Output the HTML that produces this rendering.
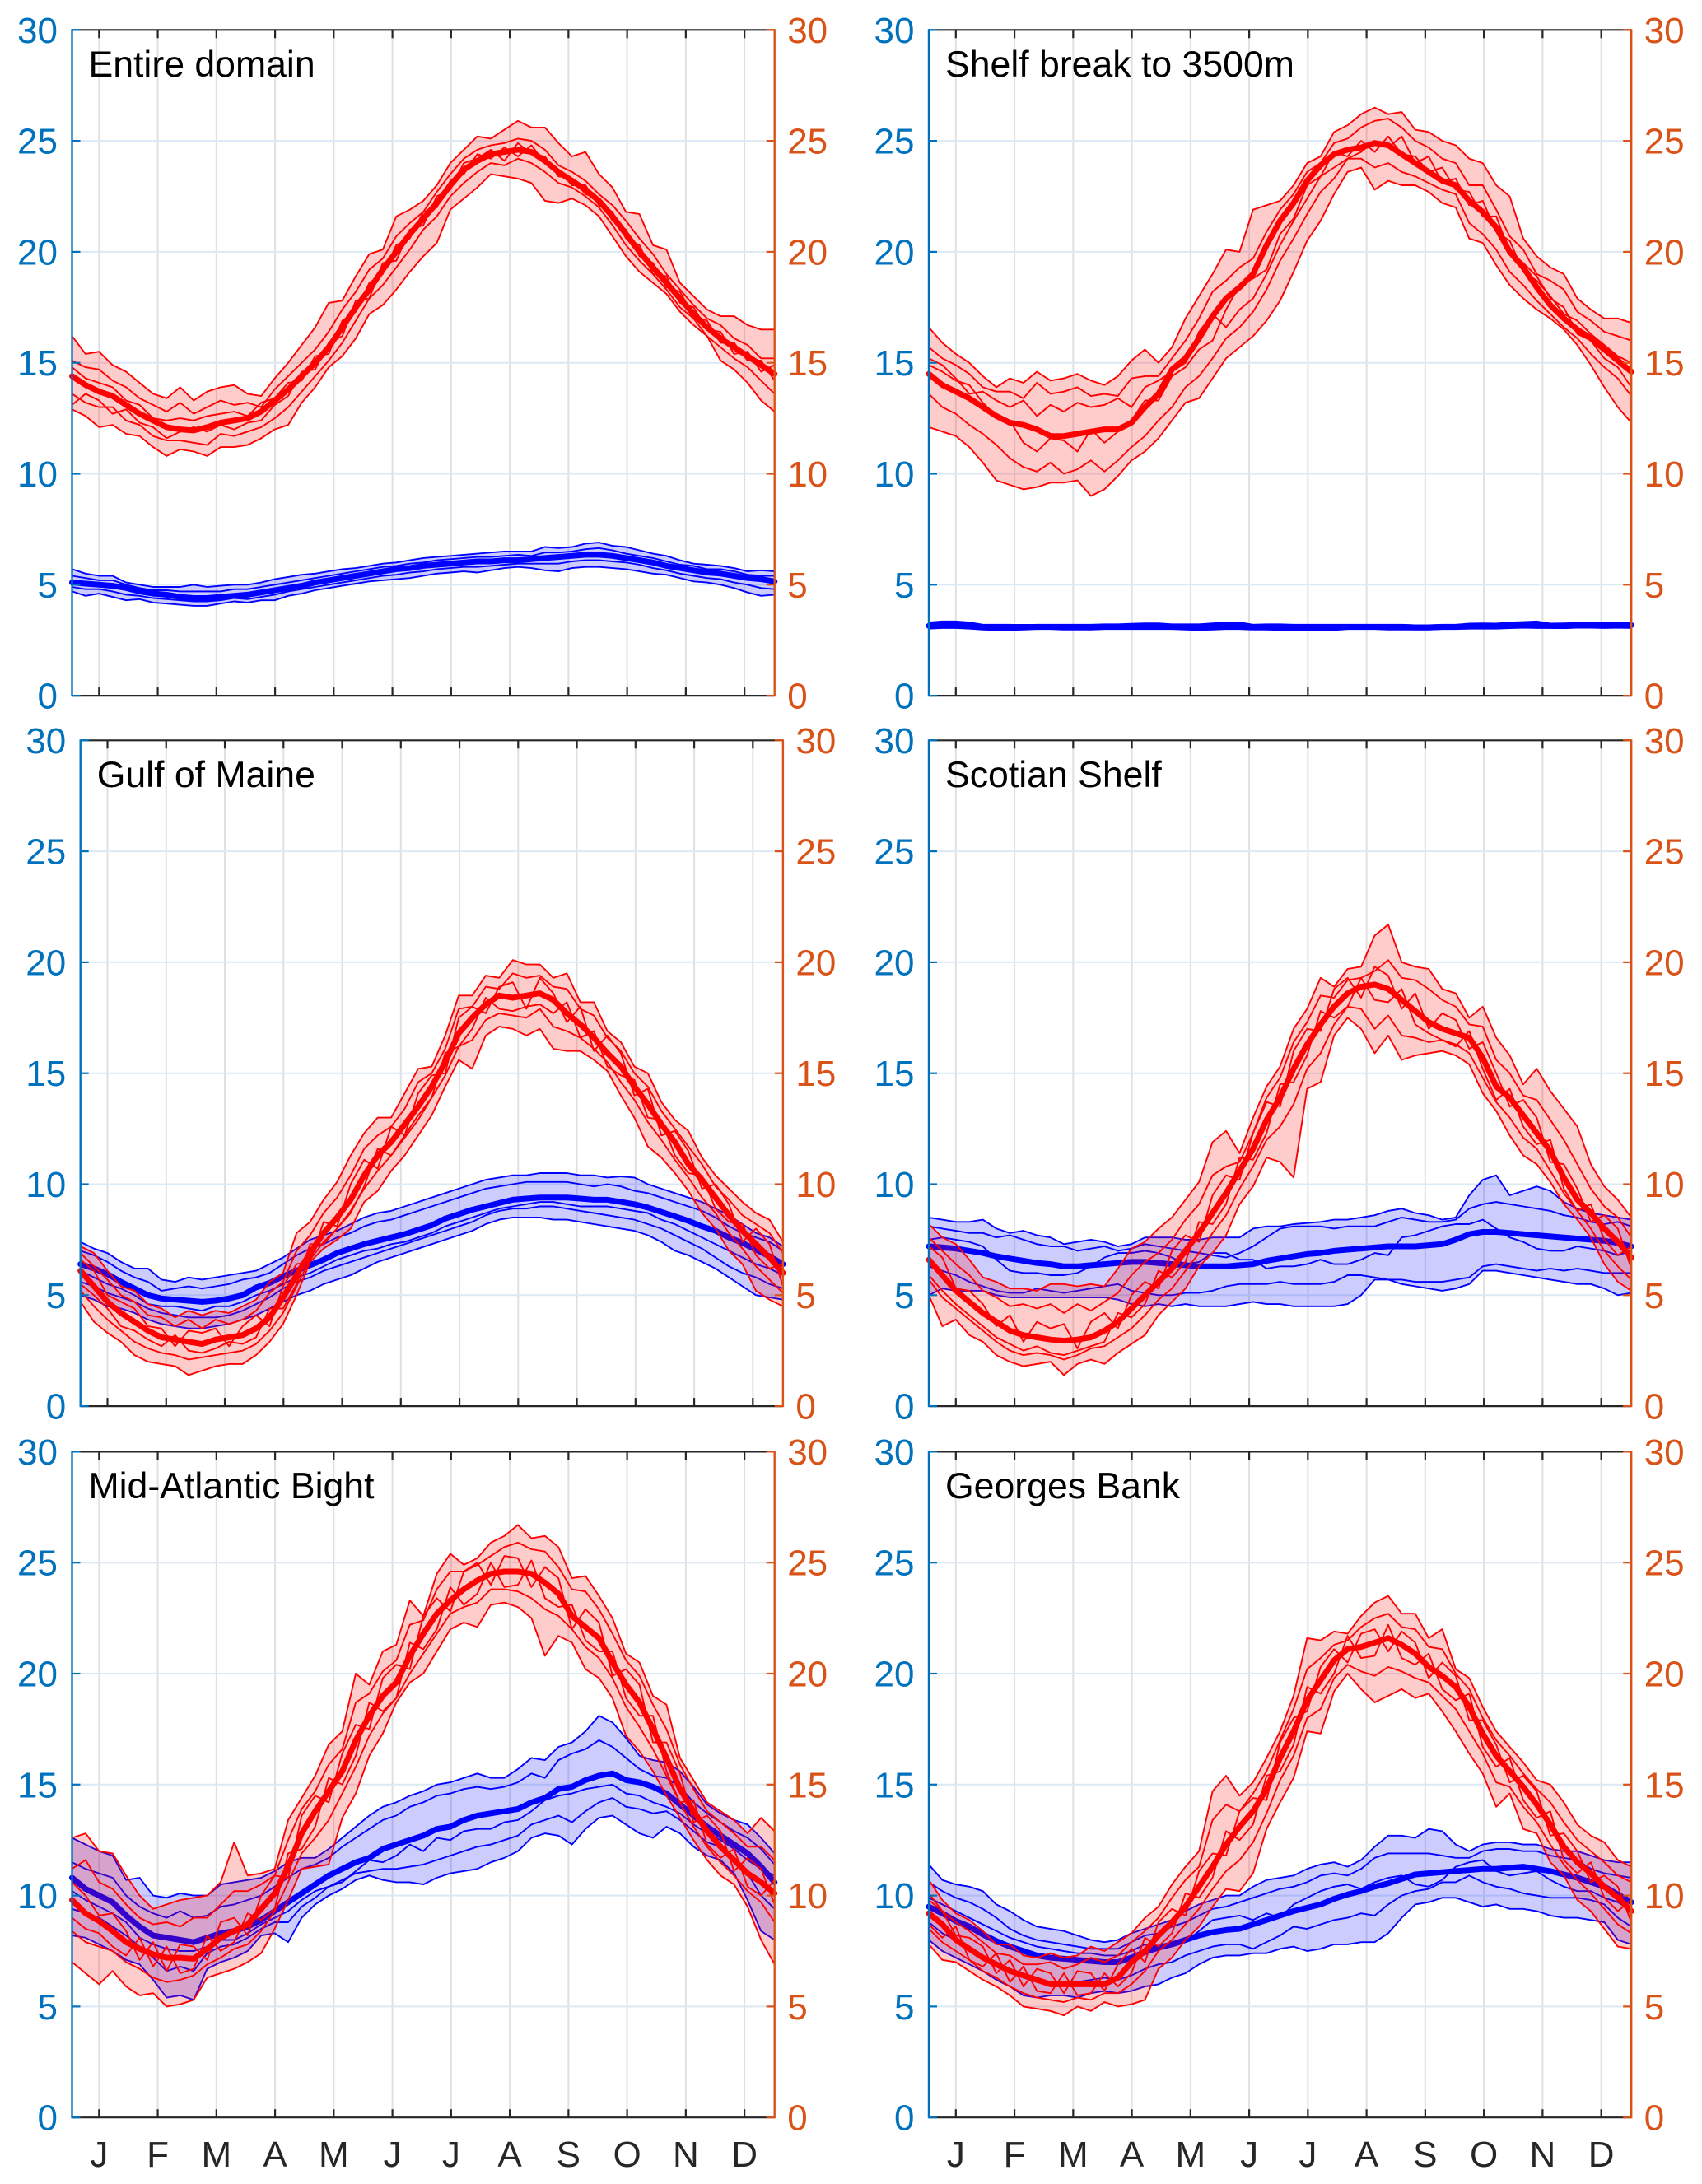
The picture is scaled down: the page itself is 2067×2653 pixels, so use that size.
<!DOCTYPE html>
<html lang="en">
<head>
<meta charset="utf-8">
<title>Seasonal temperature by region</title>
<style>
html,body{margin:0;padding:0;background:#fff;}
body{width:2067px;height:2653px;overflow:hidden;}
svg{display:block;font-family:"Liberation Sans",Arial,sans-serif;}
</style>
</head>
<body>
<svg id="chart" xmlns="http://www.w3.org/2000/svg" width="2067" height="2653" viewBox="0 0 2067 2653"></svg>
<script>
const monthLabels=['J','F','M','A','M','J','J','A','S','O','N','D'];
const monthTickDays=[15,45.4,75.8,106.2,136.6,167,197.4,227.8,258.2,288.6,319,349.4];
const yTickValues=[0,5,10,15,20,25,30];
const yDomain=[0,30];
const dayDomain=[1,365];

/* Entire domain */
const entireRedMean=[14.4,14.0,13.7,13.5,13.1,12.7,12.4,12.1,12.0,11.95,12.1,12.3,12.4,12.5,12.8,13.3,13.8,14.4,15.0,15.7,16.6,17.5,18.3,19.2,20.0,20.8,21.5,22.2,23.0,23.7,24.1,24.4,24.5,24.6,24.5,24.1,23.6,23.2,22.8,22.3,21.6,20.8,20.0,19.3,18.6,17.9,17.2,16.6,16.1,15.7,15.3,14.9,14.5];
const entireRedHi=[16.2,15.4,15.5,14.9,14.6,14.1,13.6,13.4,13.9,13.3,13.7,13.9,14.0,13.6,13.5,14.3,15.0,15.8,16.6,17.7,17.8,18.9,19.9,20.1,21.6,21.9,22.3,23.0,24.0,24.6,25.2,25.1,25.5,25.9,25.6,25.6,24.9,24.3,24.5,23.5,22.9,21.8,21.7,20.3,20.1,18.6,18.0,17.4,17.1,17.1,16.7,16.5,16.5];
const entireRedLo=[12.9,12.6,12.1,12.2,11.8,11.7,11.2,10.8,11.1,11.0,10.8,11.2,11.2,11.3,11.6,12.0,12.2,13.2,13.9,14.8,15.3,16.1,17.2,17.6,18.3,19.1,19.8,20.4,21.9,22.4,22.9,23.5,23.4,23.3,23.1,22.3,22.2,22.4,22.1,21.6,20.7,19.8,19.1,18.6,18.1,17.3,16.7,16.2,15.1,14.7,14.1,13.3,12.8];
const entireRedT1=[15.1,14.8,14.7,14.2,13.9,13.4,13.1,12.8,13.2,12.7,13.0,13.3,13.1,13.2,13.0,13.8,14.4,15.0,15.6,16.4,17.4,18.2,19.2,19.7,20.7,21.3,21.8,22.7,23.5,24.2,24.6,24.8,24.9,25.1,25.0,24.6,23.9,23.6,23.2,22.6,22.1,21.4,20.6,19.9,19.0,18.3,17.6,17.0,16.7,16.1,15.8,15.2,15.2];
const entireRedT2=[13.6,13.2,13.0,13.0,12.4,12.2,11.7,11.5,11.5,11.4,11.3,11.8,11.7,11.9,12.1,12.5,13.0,13.7,14.4,15.1,15.9,16.9,17.9,18.5,19.3,20.1,21.0,21.6,22.5,23.1,23.6,24.0,23.9,24.2,24.0,23.6,23.1,22.9,22.5,22.0,21.2,20.3,19.6,19.0,18.3,17.5,17.0,16.2,15.7,15.2,14.8,14.2,13.6];
const entireRedT3=[14.8,14.3,14.1,13.9,13.3,13.1,12.5,12.4,12.5,12.4,12.6,12.7,12.8,12.6,13.2,13.4,14.1,14.2,15.3,15.4,16.9,17.3,18.6,19.0,20.3,20.6,21.8,22.0,23.2,23.5,24.4,24.2,24.7,24.3,24.8,24.0,23.7,23.0,23.0,22.1,21.8,20.6,20.3,19.0,18.9,17.7,17.5,16.5,16.4,15.4,15.5,14.6,14.9];
const entireRedT4=[13.1,13.6,13.3,12.7,12.9,12.3,12.1,11.6,11.9,12.1,11.9,12.2,12.0,12.3,12.4,13.1,13.5,14.6,14.7,15.9,16.2,17.8,17.9,19.5,19.6,21.0,21.2,22.5,22.8,24.0,24.2,24.6,24.1,24.9,24.4,24.3,23.4,23.3,22.6,22.4,21.4,21.0,19.8,19.5,18.4,18.2,17.1,16.9,15.9,15.9,15.1,15.1,14.2];
const entireBlueMean=[5.1,5.05,5.0,4.95,4.85,4.7,4.6,4.55,4.45,4.4,4.4,4.45,4.5,4.55,4.65,4.75,4.85,4.95,5.1,5.2,5.3,5.4,5.5,5.6,5.7,5.75,5.85,5.9,5.95,6.0,6.05,6.05,6.1,6.1,6.15,6.2,6.25,6.3,6.35,6.35,6.3,6.2,6.1,6.0,5.85,5.75,5.65,5.55,5.5,5.4,5.3,5.25,5.15];
const entireBlueHi=[5.7,5.5,5.4,5.4,5.1,5.0,4.9,4.9,4.9,5.0,4.9,4.95,5.0,5.0,5.1,5.25,5.35,5.45,5.5,5.6,5.7,5.75,5.85,5.95,6.0,6.1,6.2,6.25,6.3,6.35,6.4,6.45,6.5,6.5,6.5,6.7,6.65,6.7,6.85,6.9,6.75,6.7,6.55,6.4,6.3,6.1,5.95,5.9,5.85,5.75,5.6,5.65,5.6];
const entireBlueLo=[4.7,4.5,4.6,4.45,4.3,4.35,4.2,4.15,4.1,4.05,4.05,4.15,4.25,4.2,4.3,4.3,4.5,4.6,4.75,4.85,4.95,5.05,5.15,5.2,5.25,5.3,5.4,5.5,5.55,5.6,5.55,5.65,5.75,5.8,5.75,5.65,5.6,5.75,5.8,5.8,5.75,5.7,5.6,5.5,5.45,5.3,5.15,5.1,5.0,4.85,4.65,4.5,4.55];
const entireBlueT1=[5.4,5.3,5.2,5.2,5.0,4.85,4.75,4.75,4.7,4.7,4.7,4.7,4.8,4.8,4.9,5.0,5.1,5.2,5.3,5.4,5.5,5.6,5.7,5.8,5.85,5.95,6.0,6.1,6.15,6.2,6.25,6.25,6.3,6.35,6.3,6.45,6.45,6.5,6.6,6.65,6.55,6.4,6.3,6.2,6.05,5.9,5.85,5.7,5.7,5.6,5.45,5.4,5.4];
const entireBlueT2=[4.9,4.8,4.8,4.7,4.55,4.5,4.4,4.35,4.3,4.25,4.25,4.3,4.4,4.35,4.45,4.55,4.7,4.8,4.9,5.0,5.1,5.2,5.3,5.4,5.45,5.55,5.6,5.7,5.75,5.8,5.8,5.85,5.9,5.95,5.95,5.95,5.95,6.05,6.1,6.1,6.05,6.0,5.9,5.75,5.65,5.5,5.4,5.3,5.25,5.1,5.0,4.85,4.8];

/* Shelf break to 3500m */
const shelfRedMean=[14.5,14.0,13.7,13.4,13.0,12.6,12.3,12.2,12.0,11.7,11.7,11.8,11.9,12.0,12.0,12.3,13.0,13.6,14.7,15.2,16.1,17.1,17.9,18.4,19.0,20.3,21.4,22.2,23.2,23.9,24.4,24.6,24.7,24.9,24.8,24.4,24.0,23.6,23.2,23.0,22.3,21.8,21.1,20.0,19.3,18.4,17.6,17.0,16.5,16.1,15.6,15.1,14.6];
const shelfRedHi=[16.6,15.9,15.4,15.0,14.4,13.9,14.3,14.1,14.6,14.2,14.3,14.5,14.2,14.0,14.4,15.1,15.6,15.0,15.7,17.0,18.0,19.0,20.1,20.0,21.9,22.1,22.3,23.0,24.0,24.3,25.4,25.7,26.2,26.5,26.2,26.3,25.5,25.4,25.0,24.8,24.2,24.0,23.0,22.5,20.6,19.8,19.3,19.0,17.9,17.4,17.0,17.0,16.8];
const shelfRedLo=[12.1,11.9,11.7,11.2,10.5,9.7,9.5,9.3,9.4,9.6,9.6,9.7,9.0,9.3,9.9,10.6,11.0,11.6,12.4,13.2,13.4,14.3,15.2,15.7,16.2,16.9,17.8,19.1,20.5,21.4,22.6,23.6,23.8,22.8,23.2,23.0,23.0,22.7,22.2,22.0,20.6,20.4,19.4,18.5,17.9,17.4,17.0,16.5,15.8,14.9,13.9,13.0,12.3];
const shelfRedT1=[15.7,15.2,14.9,14.5,13.9,13.7,13.7,13.4,14.1,13.6,13.7,13.9,13.5,13.6,13.5,14.3,14.4,14.4,15.2,16.0,17.0,18.2,18.7,19.3,19.7,20.9,21.9,22.6,23.6,24.0,24.9,25.1,25.6,25.9,26.0,25.6,25.0,24.7,24.2,24.0,23.0,23.0,21.9,20.7,20.1,19.0,18.7,18.3,17.3,16.9,16.4,16.2,16.0];
const shelfRedT2=[13.6,13.0,12.7,12.2,11.8,11.3,10.7,10.3,10.1,10.5,10.0,10.2,10.6,10.1,10.6,11.2,11.7,12.4,13.0,13.9,14.4,15.2,16.1,16.6,17.3,18.3,19.6,20.6,21.7,22.7,23.3,24.2,24.2,23.8,24.0,23.6,23.4,23.1,22.8,22.6,21.3,20.8,20.1,19.1,18.5,17.8,17.2,16.6,16.1,15.4,14.8,14.3,13.5];
const shelfRedT3=[14.9,14.6,14.2,14.0,13.2,12.6,12.4,11.4,11.0,11.6,11.5,11.0,12.0,11.4,11.9,12.4,13.3,13.3,14.4,14.8,15.6,16.0,17.4,18.5,18.8,19.2,20.8,21.5,23.0,23.4,24.5,24.3,25.0,24.5,25.2,24.4,24.3,23.6,23.8,22.8,22.7,21.6,21.6,20.0,19.5,18.9,17.9,17.5,16.3,16.0,15.2,14.8,13.9];
const shelfRedT4=[15.2,14.9,14.3,13.6,13.7,13.3,13.0,13.3,12.6,13.1,12.8,13.2,13.0,13.1,13.4,13.0,13.9,14.2,14.6,15.0,16.4,17.2,16.6,17.4,17.9,19.0,20.3,21.4,22.4,23.4,23.8,24.2,24.5,25.0,24.7,25.2,24.0,24.3,23.1,23.3,22.1,22.3,20.9,20.5,19.1,18.7,18.0,17.2,16.9,16.3,15.8,15.3,15.0];
const shelfBlueMean=[3.15,3.2,3.2,3.15,3.1,3.1,3.1,3.1,3.1,3.1,3.1,3.1,3.1,3.1,3.12,3.12,3.13,3.13,3.12,3.1,3.1,3.13,3.15,3.15,3.1,3.1,3.1,3.1,3.1,3.1,3.1,3.1,3.1,3.1,3.1,3.1,3.08,3.08,3.1,3.1,3.13,3.13,3.13,3.15,3.18,3.2,3.15,3.15,3.16,3.16,3.18,3.18,3.18];
const shelfBlueHi=[3.3,3.35,3.35,3.3,3.2,3.2,3.2,3.18,3.2,3.2,3.2,3.2,3.2,3.22,3.22,3.24,3.26,3.26,3.22,3.22,3.22,3.26,3.3,3.3,3.2,3.22,3.22,3.2,3.2,3.2,3.2,3.2,3.2,3.2,3.2,3.2,3.18,3.18,3.2,3.2,3.25,3.26,3.25,3.3,3.32,3.35,3.25,3.26,3.28,3.28,3.3,3.3,3.28];
const shelfBlueLo=[3.02,3.05,3.05,3.02,2.98,2.96,2.96,2.98,3.0,3.0,2.98,2.98,2.98,3.0,3.0,3.0,3.0,3.0,3.0,2.98,2.96,2.98,3.0,3.0,2.98,2.98,2.96,2.96,2.96,2.94,2.96,3.0,3.0,3.0,2.98,2.98,2.98,2.98,3.0,3.0,3.02,3.02,3.02,3.04,3.06,3.05,3.05,3.04,3.06,3.06,3.05,3.06,3.05];
const shelfBlueT1=[3.2,3.25,3.25,3.2,3.12,3.1,3.12,3.1,3.14,3.12,3.12,3.1,3.14,3.14,3.16,3.16,3.18,3.2,3.14,3.12,3.14,3.2,3.22,3.18,3.12,3.14,3.14,3.1,3.12,3.12,3.12,3.14,3.14,3.12,3.12,3.12,3.12,3.1,3.14,3.14,3.18,3.2,3.16,3.2,3.24,3.26,3.18,3.2,3.2,3.2,3.24,3.22,3.2];
const shelfBlueT2=[3.1,3.14,3.12,3.1,3.04,3.04,3.02,3.04,3.06,3.04,3.04,3.04,3.04,3.06,3.08,3.06,3.08,3.08,3.06,3.04,3.04,3.06,3.1,3.1,3.04,3.04,3.02,3.04,3.02,3.02,3.04,3.06,3.06,3.06,3.04,3.04,3.04,3.04,3.06,3.06,3.08,3.08,3.08,3.1,3.12,3.12,3.1,3.1,3.12,3.12,3.12,3.12,3.12];

/* Gulf of Maine */
const maineRedMean=[6.1,5.4,4.7,4.2,3.8,3.4,3.1,3.0,2.9,2.8,3.0,3.1,3.2,3.5,4.0,4.9,5.9,6.9,7.8,8.5,9.3,10.4,11.3,11.9,12.7,13.5,14.4,15.5,16.8,17.5,18.1,18.5,18.4,18.5,18.6,18.3,17.7,17.2,16.6,15.9,15.3,14.4,13.6,12.7,11.9,10.9,10.2,9.4,8.6,7.9,7.3,6.7,6.0];
const maineRedHi=[7.2,6.9,6.1,5.4,5.2,4.6,4.4,4.0,4.3,4.1,4.3,4.2,4.5,4.8,5.6,6.0,7.8,8.3,9.3,10.1,11.3,12.3,13.0,13.0,14.1,15.2,15.3,16.7,18.5,18.5,19.4,19.3,20.1,19.9,19.9,19.3,19.5,18.2,18.2,16.9,16.4,15.3,15.0,13.7,12.9,12.4,11.2,10.4,9.8,9.2,8.7,8.4,7.4];
const maineRedLo=[4.7,3.8,3.3,2.9,2.3,2.0,1.9,1.8,1.4,1.6,1.8,1.9,1.9,2.3,2.9,3.7,5.0,6.5,7.1,7.5,8.0,9.2,9.7,10.6,11.3,12.2,13.1,14.4,15.6,15.2,16.7,17.1,17.0,16.7,17.0,16.1,16.0,16.0,15.6,15.1,14.0,13.0,11.7,11.2,10.5,9.7,8.7,8.0,7.0,6.4,5.2,4.8,4.5];
const maineRedT1=[6.9,6.3,5.7,5.0,4.7,4.1,4.0,3.6,3.9,3.5,3.9,3.7,3.9,4.3,5.1,5.6,7.0,7.7,8.7,9.4,10.4,11.6,12.2,12.6,13.4,14.6,15.0,16.1,17.9,18.0,18.9,18.8,19.5,19.3,19.4,18.9,18.8,17.9,17.6,16.6,16.0,15.0,14.4,13.3,12.5,11.7,10.9,9.9,9.3,8.6,8.2,7.8,6.9];
const maineRedT2=[5.2,4.5,3.9,3.4,2.9,2.6,2.4,2.3,2.1,2.2,2.3,2.4,2.5,2.8,3.4,4.2,5.4,6.6,7.4,8.0,8.8,9.8,10.6,11.3,12.1,12.9,13.9,14.9,16.2,16.5,17.4,17.7,17.6,17.5,17.9,17.1,16.9,16.6,16.1,15.5,14.6,13.8,12.8,12.0,11.1,10.3,9.4,8.7,7.8,7.1,6.3,5.7,5.1];
const maineRedT3=[6.6,6.1,5.0,4.7,4.4,3.6,3.5,2.7,3.4,3.3,3.5,2.7,3.6,4.1,3.6,5.4,6.4,6.5,8.3,8.1,10.0,11.1,10.7,12.6,12.2,14.1,14.9,15.0,17.5,18.0,17.7,18.9,19.1,17.9,19.3,18.6,17.3,18.0,16.0,16.7,15.9,14.0,14.3,12.2,12.4,11.5,9.8,10.0,9.1,7.4,8.0,7.3,5.4];
const maineRedT4=[5.5,5.0,4.4,3.6,3.4,3.0,2.7,3.2,2.5,2.4,2.6,2.9,2.8,3.1,4.4,4.4,5.5,7.3,7.3,8.0,8.7,9.9,11.6,11.3,12.2,13.1,13.9,15.9,16.2,17.0,18.4,17.9,17.8,18.0,18.1,17.7,18.2,16.6,16.9,15.3,14.9,14.7,13.0,12.9,11.3,10.5,10.4,8.9,8.3,8.2,6.8,6.2,6.4];
const maineBlueMean=[6.4,6.2,5.95,5.6,5.3,5.0,4.85,4.8,4.75,4.7,4.75,4.85,5.0,5.35,5.55,5.85,6.1,6.35,6.6,6.9,7.1,7.3,7.45,7.6,7.75,7.95,8.15,8.45,8.65,8.85,9.0,9.15,9.3,9.35,9.4,9.4,9.4,9.35,9.3,9.3,9.2,9.1,8.95,8.75,8.55,8.35,8.1,7.9,7.6,7.35,7.05,6.75,6.4];
const maineBlueHi=[7.4,7.1,6.9,6.5,6.2,6.2,5.7,5.6,5.8,5.7,5.8,5.9,6.0,6.1,6.4,6.7,7.1,7.5,7.7,7.9,8.2,8.5,8.7,8.8,9.0,9.2,9.4,9.6,9.8,10.0,10.2,10.3,10.4,10.4,10.5,10.5,10.5,10.4,10.4,10.3,10.35,10.3,10.0,9.8,9.6,9.4,9.2,8.9,8.6,8.2,7.8,7.6,7.2];
const maineBlueLo=[5.0,4.8,4.5,4.4,4.2,3.9,3.7,3.6,3.5,3.5,3.6,3.7,3.9,4.1,4.4,4.7,5.0,5.2,5.5,5.7,5.9,6.2,6.5,6.7,6.9,7.1,7.3,7.5,7.7,7.9,8.2,8.4,8.5,8.5,8.5,8.4,8.4,8.3,8.2,8.1,8.0,7.9,7.7,7.4,7.0,6.8,6.5,6.2,5.8,5.4,5.0,4.9,4.8];
const maineBlueT1=[7.0,6.8,6.5,6.1,5.8,5.6,5.2,5.3,5.4,5.3,5.4,5.5,5.7,5.8,6.0,6.4,6.8,7.1,7.3,7.6,7.8,8.1,8.3,8.4,8.6,8.8,9.0,9.2,9.4,9.6,9.8,9.9,10.0,10.1,10.1,10.1,10.1,10.0,9.9,10.0,9.9,9.7,9.6,9.4,9.2,9.0,8.8,8.5,8.1,7.8,7.6,7.4,7.0];
const maineBlueT2=[5.6,5.4,5.1,4.9,4.7,4.4,4.2,4.1,4.0,4.0,4.0,4.1,4.3,4.6,4.9,5.3,5.6,5.8,6.1,6.3,6.5,6.7,6.9,7.1,7.3,7.5,7.7,7.9,8.1,8.3,8.6,8.8,8.9,8.9,9.0,9.0,8.9,8.8,8.7,8.6,8.5,8.4,8.2,8.0,7.7,7.4,7.1,6.7,6.3,6.0,5.8,5.5,5.3];
const maineBlueT3=[6.1,5.8,5.5,5.3,5.0,4.6,4.5,4.5,4.4,4.3,4.5,4.5,4.7,5.0,5.2,5.5,5.8,6.0,6.3,6.6,6.8,7.0,7.1,7.3,7.4,7.6,7.8,8.1,8.3,8.5,8.7,8.9,9.0,9.1,9.2,9.2,9.1,9.0,9.0,9.0,8.9,8.8,8.7,8.4,8.2,7.9,7.6,7.3,7.0,6.7,6.4,6.2,5.9];

/* Scotian Shelf */
const scotianRedMean=[6.6,5.9,5.2,4.7,4.2,3.8,3.4,3.2,3.1,3.0,2.95,3.0,3.1,3.4,3.8,4.4,5.0,5.6,6.2,7.0,7.8,8.7,9.6,10.6,11.6,12.9,13.9,15.2,16.3,17.2,18.0,18.6,18.9,19.0,18.8,18.3,17.8,17.3,17.0,16.8,16.6,15.7,14.4,13.9,13.1,12.3,11.5,10.3,9.3,8.7,8.0,7.4,6.7];
const scotianRedHi=[8.2,7.6,7.3,6.6,5.8,5.6,5.3,5.3,5.2,5.5,5.5,5.4,5.5,5.4,6.2,7.1,7.4,8.0,8.5,9.3,10.1,11.9,12.4,11.4,13.0,14.4,15.3,17.0,17.9,19.3,18.9,19.7,19.8,21.2,21.7,20.0,19.8,19.7,18.8,18.6,17.5,18.0,16.6,15.8,14.5,15.2,14.2,13.4,12.6,10.9,9.9,9.3,8.5];
const scotianRedLo=[5.0,3.6,3.9,3.2,2.9,2.3,2.0,1.8,1.9,2.0,1.4,1.9,2.1,1.9,2.4,2.8,3.2,4.1,4.7,5.3,6.3,6.9,7.7,9.1,9.9,11.2,11.0,10.3,14.3,14.6,16.7,17.5,17.0,15.9,16.7,15.6,15.8,15.9,16.0,15.8,15.4,14.1,13.3,12.2,11.3,10.9,10.1,9.1,8.4,7.6,6.4,5.6,5.2];
const scotianRedT1=[7.6,7.0,6.4,5.9,5.2,4.9,4.5,4.6,4.4,4.6,4.2,4.6,4.3,4.7,5.1,5.9,6.5,6.9,7.5,8.4,9.1,10.4,10.8,11.0,12.3,13.9,14.8,16.4,17.3,18.5,18.4,19.2,19.3,19.6,20.1,19.3,19.2,18.8,18.3,18.0,17.2,17.1,15.6,15.0,14.0,13.8,12.9,12.0,10.9,9.8,9.0,8.5,7.6];
const scotianRedT2=[5.7,4.9,4.4,3.9,3.4,2.9,2.5,2.3,2.4,2.3,2.1,2.3,2.6,2.7,3.1,3.5,4.1,4.8,5.3,6.1,6.9,7.8,8.6,9.8,10.8,12.0,12.6,13.6,15.2,15.9,17.2,18.0,17.9,17.0,17.6,16.7,16.6,16.4,16.5,16.3,15.9,14.8,13.7,13.0,12.1,11.6,10.6,9.6,8.8,8.0,7.0,6.3,5.7];
const scotianRedT3=[7.2,6.7,5.3,5.2,4.6,3.6,4.1,2.9,3.8,3.5,3.7,2.6,3.8,4.2,3.5,5.0,5.6,5.3,7.0,7.7,7.4,9.5,10.4,10.2,12.3,13.7,13.5,16.0,17.0,16.9,18.8,19.3,18.4,19.8,19.4,17.9,18.6,17.0,17.7,17.4,16.1,16.4,15.0,13.5,13.8,13.0,11.0,10.9,9.8,8.3,8.6,8.0,6.2];
const scotianRedT4=[5.9,5.2,4.6,4.1,3.6,3.1,2.8,2.5,2.7,2.4,2.3,2.5,2.7,2.9,4.2,4.0,4.6,6.1,5.8,6.5,8.3,8.2,9.1,11.2,11.1,12.3,14.5,14.6,15.8,17.8,17.5,18.0,19.3,18.3,18.2,18.8,17.2,16.8,16.5,16.2,16.9,15.2,13.8,14.3,12.6,11.8,12.0,9.8,8.8,9.1,7.5,6.8,7.2];
const scotianBlueMean=[7.2,7.15,7.1,7.0,6.9,6.75,6.65,6.55,6.45,6.4,6.3,6.3,6.35,6.4,6.45,6.5,6.5,6.45,6.4,6.35,6.3,6.3,6.3,6.35,6.4,6.55,6.65,6.75,6.85,6.9,7.0,7.05,7.1,7.15,7.2,7.2,7.2,7.25,7.3,7.5,7.75,7.85,7.85,7.8,7.75,7.7,7.65,7.6,7.55,7.5,7.45,7.35,7.2];
const scotianBlueHi=[8.5,8.4,8.3,8.3,8.4,8.0,7.8,7.9,7.7,7.6,7.3,7.4,7.5,7.4,7.2,7.3,7.6,7.6,7.6,7.5,7.5,7.6,7.6,7.6,8.0,8.1,8.1,8.2,8.25,8.3,8.4,8.4,8.5,8.6,8.8,8.9,8.7,8.6,8.4,8.5,9.5,10.2,10.4,9.5,9.7,9.9,9.7,9.2,8.9,8.7,8.6,8.5,8.4];
const scotianBlueLo=[5.0,5.3,5.2,5.2,5.2,5.0,4.9,4.9,4.9,4.9,4.9,4.9,4.9,4.9,4.8,4.6,4.5,4.6,4.5,4.6,4.5,4.5,4.5,4.6,4.7,4.6,4.6,4.5,4.5,4.5,4.5,4.6,5.0,5.7,5.7,5.5,5.4,5.3,5.2,5.3,5.5,6.1,6.1,6.0,5.9,5.8,5.7,5.6,5.5,5.5,5.3,5.0,5.1];
const scotianBlueT1=[8.1,8.0,7.9,7.8,7.8,7.6,7.7,7.5,7.3,7.2,7.2,7.0,7.1,7.2,7.0,7.1,7.3,7.2,7.1,7.0,6.9,6.8,6.7,6.9,7.2,7.6,8.0,8.1,8.1,8.1,8.0,8.1,8.1,8.1,8.3,8.5,8.4,8.3,8.3,8.4,8.9,9.1,9.2,9.1,9.0,8.9,8.8,8.6,8.5,8.3,8.2,8.3,8.1];
const scotianBlueT2=[6.3,6.1,5.9,5.6,5.4,5.2,5.1,5.1,5.3,5.2,5.1,5.2,5.3,5.4,5.5,5.2,5.1,5.0,5.0,5.1,5.1,5.2,5.4,5.5,5.5,5.5,5.6,5.5,5.5,5.5,5.6,5.9,5.9,5.8,5.7,5.7,5.6,5.6,5.6,5.7,5.8,6.3,6.4,6.3,6.2,6.1,6.2,6.1,6.2,6.1,6.0,6.0,6.0];
const scotianBlueT3=[7.5,7.6,7.5,7.4,7.2,6.6,6.1,6.0,6.0,5.9,5.9,6.0,6.3,6.7,6.9,6.9,7.0,6.9,6.7,6.4,6.5,6.9,6.9,6.6,6.6,6.2,6.3,6.3,6.4,6.6,6.4,6.4,6.6,6.9,6.8,7.6,7.7,7.9,8.1,8.2,8.2,8.4,8.0,7.6,7.4,7.1,7.0,7.0,7.2,7.1,7.0,6.8,7.0];

/* Mid-Atlantic Bight */
const midRedMean=[9.8,9.2,8.85,8.4,7.9,7.6,7.35,7.2,7.2,7.15,7.6,8.1,8.4,8.7,9.4,10.1,11.3,12.8,13.8,14.7,15.6,17.0,18.1,19.0,19.6,20.8,21.8,22.7,23.3,23.8,24.2,24.5,24.6,24.6,24.5,24.1,23.6,22.6,22.1,21.6,20.5,19.5,18.7,17.5,16.2,14.8,13.8,12.9,12.2,11.6,11.0,10.6,10.1];
const midRedHi=[12.6,12.8,12.0,11.9,10.9,10.0,9.4,9.6,9.8,9.9,10.0,10.6,12.4,10.9,11.0,11.2,13.4,14.4,15.4,16.8,17.4,20.0,19.5,21.0,21.3,23.3,22.6,24.5,25.4,24.9,25.2,25.9,26.2,26.7,26.1,26.2,25.7,24.3,24.4,23.5,22.5,20.9,20.5,19.0,18.6,16.2,15.2,14.2,13.8,13.4,12.8,13.5,12.9];
const midRedLo=[7.0,6.5,6.0,6.6,5.9,5.5,5.6,5.0,5.1,5.3,6.3,6.5,6.7,7.0,7.4,8.5,9.8,11.2,11.3,11.4,13.5,14.6,16.3,17.3,18.7,19.6,20.0,21.0,22.0,22.3,22.1,23.1,23.2,23.0,22.5,20.8,21.7,21.4,20.2,19.8,18.9,17.2,16.5,15.6,14.5,13.5,12.5,11.6,10.9,10.5,9.5,8.0,6.9];
const midRedT1=[11.2,11.6,10.6,10.3,9.6,9.0,8.7,8.8,8.6,9.0,9.0,9.6,10.2,10.2,10.5,10.9,12.5,13.9,14.7,15.9,16.6,18.7,19.1,20.1,20.6,22.2,22.4,23.8,24.6,24.6,24.9,25.3,25.7,25.9,25.6,25.5,24.8,23.8,23.7,22.9,21.8,20.6,19.9,18.6,17.5,15.9,14.8,13.8,13.3,12.8,12.2,12.2,11.6];
const midRedT2=[8.4,7.9,7.7,7.5,7.0,6.7,6.3,6.1,6.2,6.4,6.9,7.2,7.6,7.8,8.4,9.3,10.6,11.9,12.6,13.4,14.6,15.8,17.2,18.2,18.9,20.0,20.9,21.8,22.7,23.0,23.2,23.8,23.8,23.7,23.4,22.9,22.6,22.0,21.2,20.7,19.8,18.5,17.6,16.6,15.4,14.2,13.1,12.2,11.5,10.9,10.2,9.7,8.8];
const midRedT3=[10.6,10.0,9.1,9.2,8.4,7.1,7.9,6.6,7.8,7.7,7.1,8.8,9.0,8.2,10.0,10.9,10.8,13.6,14.5,14.2,16.4,17.7,17.5,19.8,20.4,20.2,22.6,23.4,22.8,24.6,25.0,24.0,25.3,25.2,23.9,24.8,24.3,22.0,22.9,22.3,19.9,20.2,19.5,16.9,16.9,15.5,13.3,13.6,12.9,11.1,11.7,11.2,9.6];
const midRedT4=[9.0,8.5,8.3,7.7,7.3,8.1,6.8,7.7,6.5,6.7,8.2,7.5,7.9,9.2,8.9,9.4,11.9,12.1,13.1,15.3,15.0,16.3,18.7,18.3,18.9,21.4,21.1,22.0,23.9,23.1,23.6,25.0,23.9,24.0,25.1,23.4,23.0,23.1,21.5,21.0,21.0,18.9,18.1,18.1,15.6,14.2,14.3,12.3,11.7,12.1,10.4,10.0,10.7];
const midBlueMean=[10.8,10.3,10.0,9.7,9.1,8.6,8.2,8.1,8.0,7.9,8.1,8.3,8.4,8.6,8.9,9.3,9.7,10.1,10.5,10.9,11.2,11.5,11.7,12.1,12.3,12.5,12.7,13.0,13.1,13.4,13.6,13.7,13.8,13.9,14.2,14.4,14.8,14.9,15.2,15.4,15.5,15.2,15.1,14.9,14.6,14.1,13.6,13.1,12.7,12.3,11.9,11.3,10.6];
const midBlueHi=[12.6,12.3,12.0,11.8,10.7,10.8,10.0,9.9,10.1,10.0,10.0,10.5,10.6,10.7,10.8,11.1,11.5,11.7,11.7,12.1,12.6,13.1,13.6,14.0,14.2,14.5,14.7,15.0,15.1,15.3,15.5,15.3,15.3,15.7,16.2,16.1,16.7,16.9,17.4,18.1,17.8,17.1,16.3,16.1,16.0,15.6,14.9,14.1,13.7,13.4,13.2,12.6,11.9];
const midBlueLo=[8.2,8.1,7.8,7.5,7.1,6.9,6.2,5.4,5.5,5.3,6.7,7.0,7.2,7.5,8.2,8.3,7.9,9.0,9.6,10.0,10.3,10.7,10.9,10.7,10.6,10.6,10.5,10.8,11.0,11.1,11.2,11.5,11.7,12.0,12.6,12.8,12.7,12.3,13.0,13.5,13.6,13.2,12.8,12.6,13.1,12.8,12.2,11.8,11.6,11.0,9.8,8.4,8.0];
const midBlueT1=[11.5,11.2,11.0,10.8,10.0,9.5,9.2,9.0,9.3,9.0,9.1,9.5,9.6,9.8,10.0,10.4,10.8,11.2,11.4,11.7,12.2,12.6,13.0,13.4,13.6,14.0,14.2,14.5,14.6,14.8,14.9,14.8,14.9,15.1,15.5,15.3,16.1,16.4,16.6,17.0,16.7,16.2,15.7,15.4,15.3,14.9,14.2,13.7,13.3,12.9,12.6,12.1,11.4];
const midBlueT2=[9.4,9.2,9.0,8.6,8.2,7.7,7.2,6.6,6.8,6.6,7.4,7.7,7.8,8.1,8.5,8.8,8.8,9.5,9.9,10.4,10.7,11.0,11.1,11.2,11.2,11.3,11.4,11.6,11.8,12.0,12.2,12.3,12.5,12.7,13.2,13.4,13.6,13.3,13.8,14.2,14.4,14.0,13.9,13.7,13.8,13.4,12.9,12.4,12.2,11.7,11.0,10.0,9.4];
const midBlueT3=[10.2,9.8,9.5,9.2,8.8,8.1,7.8,7.6,7.5,7.5,7.7,8.0,8.0,8.3,8.7,9.0,9.3,9.8,10.2,10.4,10.6,11.1,11.6,11.5,11.8,12.3,12.0,12.6,12.5,12.9,13.0,13.0,13.3,13.4,13.8,14.3,14.5,14.6,14.8,14.9,15.0,14.6,14.5,14.2,14.0,13.7,13.2,12.8,12.5,12.1,11.6,11.2,10.9];

/* Georges Bank */
const georgesRedMean=[9.2,8.7,8.0,7.6,7.2,6.9,6.6,6.4,6.2,6.0,6.0,6.0,6.0,6.0,6.3,7.0,7.5,8.2,8.8,9.5,10.4,11.3,12.3,13.1,13.8,14.8,16.2,17.4,18.8,19.7,20.6,21.1,21.2,21.4,21.6,21.3,20.9,20.3,19.9,19.4,18.5,17.3,16.3,15.6,14.9,14.1,13.2,12.2,11.5,11.0,10.4,9.9,9.3];
const georgesRedHi=[10.7,9.8,9.2,8.9,8.4,7.8,7.8,7.3,7.2,7.4,7.2,7.3,7.7,7.5,7.9,8.3,9.0,9.5,10.5,11.3,12.0,14.7,15.4,14.5,15.1,16.2,17.4,19.0,21.6,21.5,21.9,21.8,22.6,23.2,23.5,22.7,22.7,21.6,22.0,20.2,19.8,18.5,17.4,16.7,16.0,15.2,15.0,14.2,13.2,12.7,12.4,11.6,11.3];
const georgesRedLo=[7.8,7.1,7.0,6.6,6.2,5.9,5.5,5.0,4.9,4.8,4.6,5.0,4.8,5.2,5.0,5.1,5.3,6.7,7.2,8.0,8.6,9.5,10.3,10.2,11.0,13.0,14.2,15.3,17.4,17.3,19.2,20.0,19.3,18.7,19.0,19.3,18.9,19.1,18.3,17.4,16.4,15.5,14.0,14.6,13.0,12.8,11.5,10.9,9.8,9.3,8.5,7.7,7.6];
const georgesRedT1=[10.1,9.3,8.8,8.4,7.9,7.4,7.3,6.9,6.9,7.0,6.7,6.9,7.2,7.0,7.3,7.9,8.4,9.0,9.9,10.7,11.3,13.4,14.1,13.8,14.6,15.6,17.0,18.4,20.2,20.7,21.3,21.5,22.1,22.5,22.7,22.1,22.0,21.2,21.1,20.0,19.3,18.0,17.0,16.3,15.5,14.8,14.2,13.3,12.5,12.0,11.5,10.9,10.6];
const georgesRedT2=[8.5,7.9,7.5,7.1,6.6,6.3,5.9,5.6,5.4,5.3,5.2,5.4,5.3,5.6,5.6,6.0,6.6,7.5,8.0,8.7,9.4,10.3,11.1,11.6,12.4,13.7,15.2,16.3,18.0,18.4,19.8,20.4,20.1,19.9,20.3,20.1,19.8,19.6,19.0,18.4,17.4,16.4,15.1,14.9,14.0,13.3,12.3,11.4,10.7,10.1,9.4,8.7,8.3];
const georgesRedT3=[9.8,9.3,8.2,8.1,7.7,6.5,7.1,5.9,6.7,6.5,5.6,6.6,6.5,5.7,6.9,7.6,7.0,8.8,9.4,9.1,11.1,11.9,11.8,13.8,14.4,14.3,16.9,18.0,18.3,20.3,21.1,20.5,21.8,22.0,21.0,21.9,21.4,19.8,20.5,19.9,17.9,17.9,16.8,15.1,15.4,14.7,12.7,12.8,12.0,10.6,10.9,10.4,8.8];
const georgesRedT4=[8.7,8.1,8.6,7.1,6.8,7.4,6.1,6.8,5.7,5.6,6.5,5.5,5.6,6.5,5.9,6.5,8.1,7.7,8.3,10.1,9.9,10.8,12.9,12.5,13.2,15.4,15.6,16.8,19.4,19.1,20.0,21.7,20.7,20.8,22.2,20.7,20.4,20.9,19.3,18.8,19.1,16.7,15.8,16.2,14.3,13.5,13.8,11.6,11.0,11.5,9.9,9.3,9.8];
const georgesBlueMean=[9.5,9.2,8.85,8.6,8.25,7.95,7.7,7.5,7.3,7.2,7.15,7.1,7.05,7.0,7.0,7.2,7.45,7.65,7.8,8.0,8.2,8.35,8.45,8.5,8.7,8.9,9.1,9.3,9.45,9.6,9.85,10.05,10.2,10.4,10.55,10.75,10.95,11.0,11.05,11.1,11.15,11.2,11.2,11.25,11.3,11.2,11.1,10.95,10.8,10.6,10.4,10.05,9.7];
const georgesBlueHi=[11.4,10.7,10.5,10.4,10.2,9.6,9.3,8.9,8.6,8.5,8.4,8.2,8.0,7.9,8.0,8.3,8.5,8.7,8.9,9.3,9.6,9.8,10.0,10.0,10.4,10.7,10.8,10.9,11.2,11.4,11.5,11.3,11.6,12.2,12.7,12.7,12.6,13.0,12.9,12.3,12.0,12.3,12.4,12.4,12.3,12.3,12.1,12.0,12.0,11.8,11.6,11.5,11.5];
const georgesBlueLo=[8.0,7.5,7.2,6.9,6.6,6.2,5.9,5.5,5.4,5.5,5.5,5.4,5.6,5.7,5.6,5.7,5.9,6.0,6.3,6.5,6.9,7.2,7.3,7.3,7.4,7.4,7.6,7.7,7.5,7.6,7.8,7.8,7.9,7.9,8.3,9.0,9.6,9.7,9.9,9.9,9.7,9.5,9.6,9.4,9.4,9.3,9.1,9.0,9.0,8.9,8.8,8.0,7.8];
const georgesBlueT1=[10.6,10.2,9.9,9.7,9.4,9.0,8.5,8.2,8.0,7.9,7.8,7.7,7.6,7.6,7.6,7.9,8.2,8.3,8.6,8.8,9.1,9.4,9.5,9.7,9.9,10.1,10.3,10.4,10.6,10.9,11.0,10.9,11.2,11.7,11.9,11.9,11.9,11.9,11.8,11.7,11.7,12.0,12.1,12.1,12.0,12.0,11.8,11.7,11.6,11.2,11.0,10.9,10.8];
const georgesBlueT2=[8.8,8.3,8.0,7.7,7.2,6.9,6.6,6.3,6.1,6.1,6.1,6.1,6.2,6.3,6.2,6.4,6.7,6.9,7.0,7.3,7.5,7.7,7.8,7.8,7.6,7.9,8.2,8.6,8.5,8.7,8.9,9.0,9.2,9.1,9.6,10.0,10.2,10.3,10.6,10.6,10.9,10.6,10.4,10.3,10.1,10.0,9.9,9.9,9.9,9.8,9.6,9.0,8.6];
const georgesBlueT3=[9.9,9.6,9.3,9.0,8.7,8.4,8.1,7.9,7.7,7.6,7.5,7.4,7.4,7.3,7.3,7.5,7.8,7.7,7.7,7.9,8.4,8.9,9.0,9.1,8.9,9.2,9.0,9.6,9.9,10.2,10.4,10.5,10.3,10.6,10.8,10.9,10.5,10.4,10.7,11.3,11.5,11.6,11.1,10.9,11.0,11.1,10.7,10.4,10.2,10.2,9.9,9.7,9.3];

const panelTitles=['Entire domain','Shelf break to 3500m','Gulf of Maine','Scotian Shelf','Mid-Atlantic Bight','Georges Bank'];
const panelSlugs=['entire-domain','shelf-break','gulf-of-maine','scotian-shelf','mid-atlantic-bight','georges-bank'];
const blueSeries=[
 {mean:entireBlueMean,hi:entireBlueHi,lo:entireBlueLo,traces:[entireBlueT1,entireBlueT2]},
 {mean:shelfBlueMean,hi:shelfBlueHi,lo:shelfBlueLo,traces:[shelfBlueT1,shelfBlueT2]},
 {mean:maineBlueMean,hi:maineBlueHi,lo:maineBlueLo,traces:[maineBlueT1,maineBlueT2,maineBlueT3]},
 {mean:scotianBlueMean,hi:scotianBlueHi,lo:scotianBlueLo,traces:[scotianBlueT1,scotianBlueT2,scotianBlueT3]},
 {mean:midBlueMean,hi:midBlueHi,lo:midBlueLo,traces:[midBlueT1,midBlueT2,midBlueT3]},
 {mean:georgesBlueMean,hi:georgesBlueHi,lo:georgesBlueLo,traces:[georgesBlueT1,georgesBlueT2,georgesBlueT3]}
];
const redSeries=[
 {mean:entireRedMean,hi:entireRedHi,lo:entireRedLo,traces:[entireRedT1,entireRedT2,entireRedT3,entireRedT4]},
 {mean:shelfRedMean,hi:shelfRedHi,lo:shelfRedLo,traces:[shelfRedT1,shelfRedT2,shelfRedT3,shelfRedT4]},
 {mean:maineRedMean,hi:maineRedHi,lo:maineRedLo,traces:[maineRedT1,maineRedT2,maineRedT3,maineRedT4]},
 {mean:scotianRedMean,hi:scotianRedHi,lo:scotianRedLo,traces:[scotianRedT1,scotianRedT2,scotianRedT3,scotianRedT4]},
 {mean:midRedMean,hi:midRedHi,lo:midRedLo,traces:[midRedT1,midRedT2,midRedT3,midRedT4]},
 {mean:georgesRedMean,hi:georgesRedHi,lo:georgesRedLo,traces:[georgesRedT1,georgesRedT2,georgesRedT3,georgesRedT4]}
];

const NS='http://www.w3.org/2000/svg';
const svg=document.getElementById('chart');
const PANEL_W=853.2, PANEL_H=808.8, TICK=10;
const AXIS_LEFT='#0072BD', AXIS_RIGHT='#D95319', AXIS_DARK='#262626';

function node(parent,tag,attrs){
  const el=document.createElementNS(NS,tag);
  for(const k in attrs){el.setAttribute(k,attrs[k]);}
  parent.appendChild(el);
  return el;
}
function panelFrame(index){
  const col=index%2, row=Math.floor(index/2);
  const tops=[36.3,899.3,1763.4];
  const left=col===1?1128:(row===1?97.7:87.5);
  return {left:left,top:tops[row]};
}
function xScale(frame,day){
  return frame.left+(day-dayDomain[0])/(dayDomain[1]-dayDomain[0])*PANEL_W;
}
function yScale(frame,value){
  return frame.top+PANEL_H-(value-yDomain[0])/(yDomain[1]-yDomain[0])*PANEL_H;
}
function dayAt(i,n){
  return dayDomain[0]+(dayDomain[1]-dayDomain[0])*i/(n-1);
}
function points(frame,values){
  return values.map(function(v,i){
    return xScale(frame,dayAt(i,values.length)).toFixed(1)+','+yScale(frame,v).toFixed(1);
  });
}
function drawSeries(group,frame,series,color,fill,slug){
  const band=node(group,'polygon',{points:points(frame,series.hi).concat(points(frame,series.lo).reverse()).join(' '),fill:fill,stroke:'none'});
  
  
  const hiLine=node(group,'polyline',{points:points(frame,series.hi).join(' '),fill:'none',stroke:color,'stroke-width':1.9,'stroke-linejoin':'round'});
  
  
  const loLine=node(group,'polyline',{points:points(frame,series.lo).join(' '),fill:'none',stroke:color,'stroke-width':1.9,'stroke-linejoin':'round'});
  
  
  series.traces.forEach(function(values){
    const trace=node(group,'polyline',{points:points(frame,values).join(' '),fill:'none',stroke:color,'stroke-width':1.9,'stroke-linejoin':'round'});
    
    
  });
  const meanLine=node(group,'polyline',{points:points(frame,series.mean).join(' '),fill:'none',stroke:color,'stroke-width':7,'stroke-linejoin':'round','stroke-linecap':'round'});
  
  
}

panelTitles.forEach(function(title,index){
  const frame=panelFrame(index);
  const right=frame.left+PANEL_W, bottom=frame.top+PANEL_H;
  const slug=panelSlugs[index];
  const g=node(svg,'g',{});
  
  

  monthTickDays.forEach(function(day){
    const gx=node(g,'line',{x1:xScale(frame,day),x2:xScale(frame,day),y1:frame.top,y2:bottom,stroke:'#dfe0e2','stroke-width':2});
    
    
  });
  yTickValues.slice(1,-1).forEach(function(v){
    const gy=node(g,'line',{x1:frame.left,x2:right,y1:yScale(frame,v),y2:yScale(frame,v),stroke:'#dce9f4','stroke-width':2});
    
    
  });

  drawSeries(g,frame,blueSeries[index],'#0000ff','rgba(0,0,255,0.2)',slug+'-blue');
  drawSeries(g,frame,redSeries[index],'#ff0000','rgba(255,0,0,0.2)',slug+'-red');

  const topAxis=node(g,'line',{x1:frame.left,x2:right,y1:frame.top,y2:frame.top,stroke:AXIS_DARK,'stroke-width':2.2});
  
  
  const bottomAxis=node(g,'line',{x1:frame.left,x2:right,y1:bottom,y2:bottom,stroke:AXIS_DARK,'stroke-width':2.2});
  
  

  monthTickDays.forEach(function(day,m){
    const x=xScale(frame,day);
    const tb=node(g,'line',{x1:x,x2:x,y1:bottom,y2:bottom-TICK,stroke:AXIS_DARK,'stroke-width':2.2});
    
    
    const tt=node(g,'line',{x1:x,x2:x,y1:frame.top,y2:frame.top+TICK,stroke:AXIS_DARK,'stroke-width':2.2});
    
    
    if(index>=4){
      const lab=node(g,'text',{x:x,y:2632,'text-anchor':'middle','font-size':44,fill:AXIS_DARK});
      
      
      lab.textContent=monthLabels[m];
    }
  });

  const leftAxis=node(g,'line',{x1:frame.left,x2:frame.left,y1:frame.top-1,y2:bottom+1,stroke:AXIS_LEFT,'stroke-width':2.4});
  
  
  const rightAxis=node(g,'line',{x1:right,x2:right,y1:frame.top-1,y2:bottom+1,stroke:AXIS_RIGHT,'stroke-width':2.4});
  
  

  yTickValues.forEach(function(v){
    const y=yScale(frame,v);
    const tl=node(g,'line',{x1:frame.left,x2:frame.left+TICK,y1:y,y2:y,stroke:AXIS_LEFT,'stroke-width':2.2});
    
    
    const tr=node(g,'line',{x1:right,x2:right-TICK,y1:y,y2:y,stroke:AXIS_RIGHT,'stroke-width':2.2});
    
    
    const ll=node(g,'text',{x:frame.left-17.5,y:y+15.5,'text-anchor':'end','font-size':44,fill:AXIS_LEFT});
    
    
    ll.textContent=String(v);
    const rl=node(g,'text',{x:right+15.5,y:y+15.5,'text-anchor':'start','font-size':44,fill:AXIS_RIGHT});
    
    
    rl.textContent=String(v);
  });

  const titleEl=node(g,'text',{x:frame.left+20,y:frame.top+56.5,'font-size':44.6,fill:'#000'});
  
  
  titleEl.textContent=title;
});
</script>
</body>
</html>
